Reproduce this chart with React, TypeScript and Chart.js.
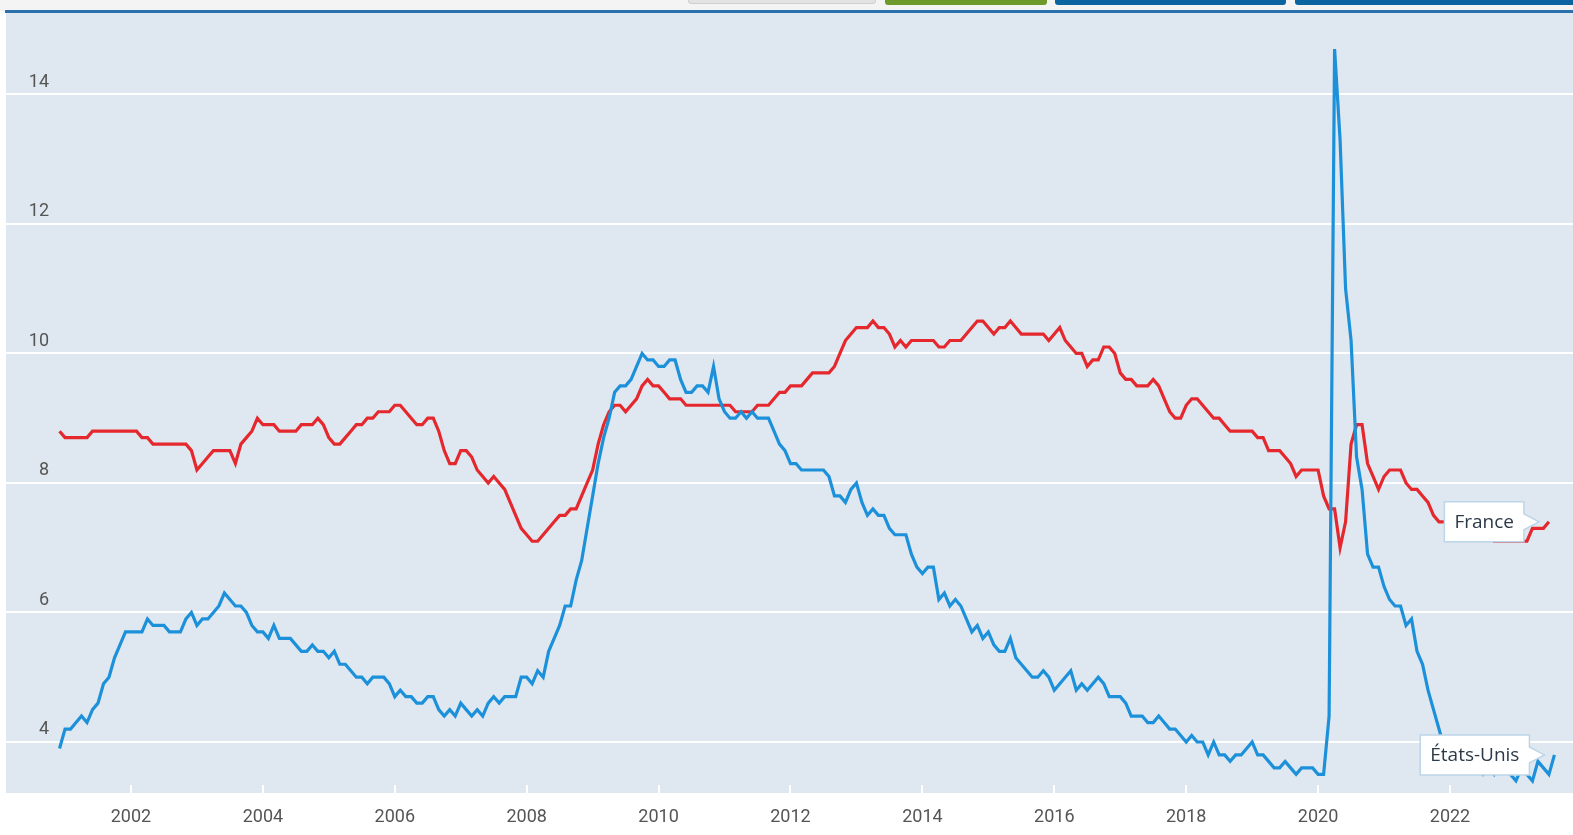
import React, { useEffect, useRef } from "react";
import { Chart, registerables } from "chart.js";

Chart.register(...registerables);

// First observation: December 2000, then one value per month.
const firstYear = 2000;
const firstMonth = 12;

// France, monthly unemployment rate (%), Dec 2000 – Jul 2023
const franceValues = [
  8.8,
  8.7, 8.7, 8.7, 8.7, 8.7, 8.8, 8.8, 8.8, 8.8, 8.8, 8.8, 8.8, // 2001
  8.8, 8.8, 8.7, 8.7, 8.6, 8.6, 8.6, 8.6, 8.6, 8.6, 8.6, 8.5, // 2002
  8.2, 8.3, 8.4, 8.5, 8.5, 8.5, 8.5, 8.3, 8.6, 8.7, 8.8, 9.0, // 2003
  8.9, 8.9, 8.9, 8.8, 8.8, 8.8, 8.8, 8.9, 8.9, 8.9, 9.0, 8.9, // 2004
  8.7, 8.6, 8.6, 8.7, 8.8, 8.9, 8.9, 9.0, 9.0, 9.1, 9.1, 9.1, // 2005
  9.2, 9.2, 9.1, 9.0, 8.9, 8.9, 9.0, 9.0, 8.8, 8.5, 8.3, 8.3, // 2006
  8.5, 8.5, 8.4, 8.2, 8.1, 8.0, 8.1, 8.0, 7.9, 7.7, 7.5, 7.3, // 2007
  7.2, 7.1, 7.1, 7.2, 7.3, 7.4, 7.5, 7.5, 7.6, 7.6, 7.8, 8.0, // 2008
  8.2, 8.6, 8.9, 9.1, 9.2, 9.2, 9.1, 9.2, 9.3, 9.5, 9.6, 9.5, // 2009
  9.5, 9.4, 9.3, 9.3, 9.3, 9.2, 9.2, 9.2, 9.2, 9.2, 9.2, 9.2, // 2010
  9.2, 9.2, 9.1, 9.1, 9.1, 9.1, 9.2, 9.2, 9.2, 9.3, 9.4, 9.4, // 2011
  9.5, 9.5, 9.5, 9.6, 9.7, 9.7, 9.7, 9.7, 9.8, 10.0, 10.2, 10.3, // 2012
  10.4, 10.4, 10.4, 10.5, 10.4, 10.4, 10.3, 10.1, 10.2, 10.1, 10.2, 10.2, // 2013
  10.2, 10.2, 10.2, 10.1, 10.1, 10.2, 10.2, 10.2, 10.3, 10.4, 10.5, 10.5, // 2014
  10.4, 10.3, 10.4, 10.4, 10.5, 10.4, 10.3, 10.3, 10.3, 10.3, 10.3, 10.2, // 2015
  10.3, 10.4, 10.2, 10.1, 10.0, 10.0, 9.8, 9.9, 9.9, 10.1, 10.1, 10.0, // 2016
  9.7, 9.6, 9.6, 9.5, 9.5, 9.5, 9.6, 9.5, 9.3, 9.1, 9.0, 9.0, // 2017
  9.2, 9.3, 9.3, 9.2, 9.1, 9.0, 9.0, 8.9, 8.8, 8.8, 8.8, 8.8, // 2018
  8.8, 8.7, 8.7, 8.5, 8.5, 8.5, 8.4, 8.3, 8.1, 8.2, 8.2, 8.2, // 2019
  8.2, 7.8, 7.6, 7.6, 7.0, 7.4, 8.6, 8.9, 8.9, 8.3, 8.1, 7.9, // 2020
  8.1, 8.2, 8.2, 8.2, 8.0, 7.9, 7.9, 7.8, 7.7, 7.5, 7.4, 7.4, // 2021
  7.4, 7.3, 7.3, 7.3, 7.3, 7.2, 7.2, 7.2, 7.1, 7.1, 7.1, 7.1, // 2022
  7.1, 7.1, 7.1, 7.3, 7.3, 7.3, 7.4, // 2023
];

// United States, monthly unemployment rate (%), Dec 2000 – Aug 2023
const usValues = [
  3.9,
  4.2, 4.2, 4.3, 4.4, 4.3, 4.5, 4.6, 4.9, 5.0, 5.3, 5.5, 5.7, // 2001
  5.7, 5.7, 5.7, 5.9, 5.8, 5.8, 5.8, 5.7, 5.7, 5.7, 5.9, 6.0, // 2002
  5.8, 5.9, 5.9, 6.0, 6.1, 6.3, 6.2, 6.1, 6.1, 6.0, 5.8, 5.7, // 2003
  5.7, 5.6, 5.8, 5.6, 5.6, 5.6, 5.5, 5.4, 5.4, 5.5, 5.4, 5.4, // 2004
  5.3, 5.4, 5.2, 5.2, 5.1, 5.0, 5.0, 4.9, 5.0, 5.0, 5.0, 4.9, // 2005
  4.7, 4.8, 4.7, 4.7, 4.6, 4.6, 4.7, 4.7, 4.5, 4.4, 4.5, 4.4, // 2006
  4.6, 4.5, 4.4, 4.5, 4.4, 4.6, 4.7, 4.6, 4.7, 4.7, 4.7, 5.0, // 2007
  5.0, 4.9, 5.1, 5.0, 5.4, 5.6, 5.8, 6.1, 6.1, 6.5, 6.8, 7.3, // 2008
  7.8, 8.3, 8.7, 9.0, 9.4, 9.5, 9.5, 9.6, 9.8, 10.0, 9.9, 9.9, // 2009
  9.8, 9.8, 9.9, 9.9, 9.6, 9.4, 9.4, 9.5, 9.5, 9.4, 9.8, 9.3, // 2010
  9.1, 9.0, 9.0, 9.1, 9.0, 9.1, 9.0, 9.0, 9.0, 8.8, 8.6, 8.5, // 2011
  8.3, 8.3, 8.2, 8.2, 8.2, 8.2, 8.2, 8.1, 7.8, 7.8, 7.7, 7.9, // 2012
  8.0, 7.7, 7.5, 7.6, 7.5, 7.5, 7.3, 7.2, 7.2, 7.2, 6.9, 6.7, // 2013
  6.6, 6.7, 6.7, 6.2, 6.3, 6.1, 6.2, 6.1, 5.9, 5.7, 5.8, 5.6, // 2014
  5.7, 5.5, 5.4, 5.4, 5.6, 5.3, 5.2, 5.1, 5.0, 5.0, 5.1, 5.0, // 2015
  4.8, 4.9, 5.0, 5.1, 4.8, 4.9, 4.8, 4.9, 5.0, 4.9, 4.7, 4.7, // 2016
  4.7, 4.6, 4.4, 4.4, 4.4, 4.3, 4.3, 4.4, 4.3, 4.2, 4.2, 4.1, // 2017
  4.0, 4.1, 4.0, 4.0, 3.8, 4.0, 3.8, 3.8, 3.7, 3.8, 3.8, 3.9, // 2018
  4.0, 3.8, 3.8, 3.7, 3.6, 3.6, 3.7, 3.6, 3.5, 3.6, 3.6, 3.6, // 2019
  3.5, 3.5, 4.4, 14.7, 13.3, 11.0, 10.2, 8.4, 7.9, 6.9, 6.7, 6.7, // 2020
  6.4, 6.2, 6.1, 6.1, 5.8, 5.9, 5.4, 5.2, 4.8, 4.5, 4.2, 3.9, // 2021
  4.0, 3.8, 3.6, 3.7, 3.6, 3.6, 3.5, 3.6, 3.5, 3.7, 3.6, 3.5, // 2022
  3.4, 3.6, 3.5, 3.4, 3.7, 3.6, 3.5, 3.8, // 2023
];

const seriesLabels = ["France", "États-Unis"];
const seriesColors = ["#e5282d", "#1c91da"];
const yTickValues = [4, 6, 8, 10, 12, 14];
const xTickYears = [2002, 2004, 2006, 2008, 2010, 2012, 2014, 2016, 2018, 2020, 2022];

const toPoints = (values: number[]) =>
  values.map((v, i) => ({ x: firstYear + (firstMonth - 1 + i) / 12, y: v }));

const tickFont = '18px Roboto, sans-serif';
const tickColor = "#555555";

const backgroundPlugin = {
  id: "plotBackground",
  beforeDraw(chart: any) {
    const { ctx, chartArea } = chart;
    ctx.save();
    ctx.fillStyle = "#dfe8f1";
    ctx.fillRect(chartArea.left, chartArea.top, chartArea.right - chartArea.left, chartArea.bottom - chartArea.top);
    ctx.restore();
  },
};

// Short white tick marks inside the plot bottom, year labels below, value labels above gridlines.
const axisLabelsPlugin = {
  id: "axisLabels",
  beforeDatasetsDraw(chart: any) {
    const { ctx, chartArea } = chart;
    const xs = chart.scales.x;
    const ys = chart.scales.y;
    ctx.save();
    ctx.strokeStyle = "#ffffff";
    ctx.lineWidth = 2;
    xs.ticks.forEach((t: any) => {
      const px = Math.round(xs.getPixelForValue(t.value));
      ctx.beginPath();
      ctx.moveTo(px, chartArea.bottom);
      ctx.lineTo(px, chartArea.bottom - 8);
      ctx.stroke();
    });
    ctx.font = tickFont;
    ctx.fillStyle = tickColor;
    ctx.textAlign = "center";
    ctx.textBaseline = "middle";
    xs.ticks.forEach((t: any) => {
      const px = xs.getPixelForValue(t.value);
      ctx.fillText(String(t.value), px, chartArea.bottom + 24);
    });
    ctx.textAlign = "right";
    ys.ticks.forEach((t: any) => {
      const py = ys.getPixelForValue(t.value);
      ctx.fillText(String(t.value), 49, py - 12);
    });
    ctx.restore();
  },
};

const calloutPlugin = {
  id: "endCallouts",
  afterDatasetsDraw(chart: any) {
    const { ctx } = chart;
    chart.data.datasets.forEach((ds: any, di: number) => {
      const meta = chart.getDatasetMeta(di);
      const pt = meta.data[meta.data.length - 1];
      if (!pt) return;
      ctx.save();
      ctx.font = '19px "Open Sans", sans-serif';
      const tw = ctx.measureText(ds.label).width;
      const boxW = tw + 20;
      const boxH = 40;
      const right = pt.x - 25;
      const left = right - boxW;
      const top = pt.y - boxH / 2;
      const tipX = pt.x - 10;
      ctx.beginPath();
      ctx.moveTo(left, top);
      ctx.lineTo(right, top);
      ctx.lineTo(right, pt.y - 8);
      ctx.lineTo(tipX, pt.y);
      ctx.lineTo(right, pt.y + 8);
      ctx.lineTo(right, top + boxH);
      ctx.lineTo(left, top + boxH);
      ctx.closePath();
      ctx.fillStyle = "#ffffff";
      ctx.fill();
      ctx.strokeStyle = "#bcd5e8";
      ctx.lineWidth = 1.5;
      ctx.stroke();
      ctx.fillStyle = "#2c3a47";
      ctx.textBaseline = "middle";
      ctx.textAlign = "left";
      ctx.fillText(ds.label, left + 10, pt.y + 1);
      ctx.restore();
    });
  },
};

export default function App() {
  const canvasRef = useRef<HTMLCanvasElement | null>(null);

  useEffect(() => {
    if (!canvasRef.current) return;
    const chart = new Chart(canvasRef.current, {
      type: "line",
      data: {
        datasets: [
          {
            label: seriesLabels[0],
            data: toPoints(franceValues),
            borderColor: seriesColors[0],
            borderWidth: 3.2,
            pointRadius: 0,
            tension: 0,
            order: 1,
          },
          {
            label: seriesLabels[1],
            data: toPoints(usValues),
            borderColor: seriesColors[1],
            borderWidth: 3.2,
            pointRadius: 0,
            tension: 0,
            order: 0,
          },
        ],
      },
      options: {
        animation: false,
        responsive: false,
        maintainAspectRatio: false,
        events: [],
        layout: { padding: { left: 6, top: 13, right: 0, bottom: 42 } },
        plugins: {
          legend: { display: false },
          tooltip: { enabled: false },
        },
        scales: {
          x: {
            type: "linear",
            min: 2000.105,
            max: 2023.865,
            afterBuildTicks: (s: any) => {
              s.ticks = xTickYears.map((v) => ({ value: v }));
            },
            grid: { display: false, drawTicks: false },
            border: { display: false },
            ticks: { display: false },
          },
          y: {
            type: "linear",
            min: 3.212,
            max: 15.258,
            afterBuildTicks: (s: any) => {
              s.ticks = yTickValues.map((v) => ({ value: v }));
            },
            grid: { color: "#ffffff", lineWidth: 2, drawTicks: false },
            border: { display: false },
            ticks: { display: false },
          },
        },
      },
      plugins: [backgroundPlugin, axisLabelsPlugin, calloutPlugin],
    } as any);
    return () => chart.destroy();
  }, []);

  return (
    <div style={{ position: "fixed", left: 0, top: 0, width: 1573, height: 835, background: "#ffffff", overflow: "hidden" }}>
      <div style={{ position: "absolute", left: 0, top: 0, width: 1573, height: 11, background: "#f4f4f4" }} />
      <div style={{ position: "absolute", left: 688, top: -4, width: 188, height: 8, background: "#e3e3e3", border: "1px solid #cfcfcf", borderRadius: 3, boxSizing: "border-box" }} />
      <div style={{ position: "absolute", left: 885, top: -4, width: 162, height: 9, background: "#6e9a2b", borderRadius: 3 }} />
      <div style={{ position: "absolute", left: 1055, top: -4, width: 231, height: 9, background: "#0b64a0", borderRadius: 3 }} />
      <div style={{ position: "absolute", left: 1295, top: -4, width: 290, height: 9, background: "#0b64a0", borderRadius: 3 }} />
      <div style={{ position: "absolute", left: 5, top: 10, width: 1568, height: 3, background: "#2a70aa" }} />
      <canvas ref={canvasRef} width={1573} height={835} style={{ position: "absolute", left: 0, top: 0, display: "block" }} />
    </div>
  );
}
